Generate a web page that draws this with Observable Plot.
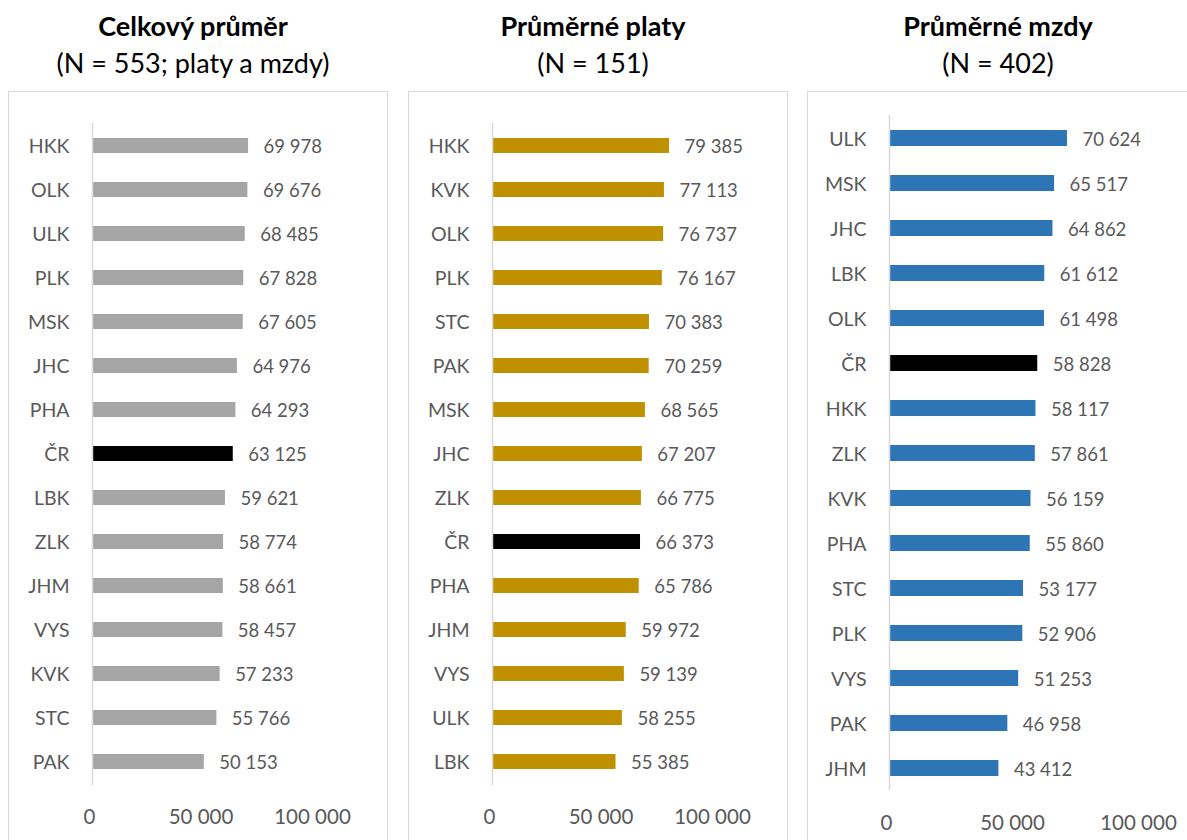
<!DOCTYPE html>
<html>
<head>
<meta charset="utf-8">
<script src="https://cdn.jsdelivr.net/npm/d3@7"></script>
<script src="https://cdn.jsdelivr.net/npm/@observablehq/plot@0.6"></script>
<style>
  html, body { margin: 0; padding: 0; width: 1187px; height: 840px; overflow: hidden; background: #fff; }
  #root { position: relative; width: 1187px; height: 840px; font-family: Lato, "Open Sans", sans-serif; }
  .box { position: absolute; border: 1px solid #d9d9d9; box-sizing: border-box; }
  .ttl { position: absolute; text-align: center; color: #000; font-size: 27px; line-height: 37px; white-space: nowrap; }
  .ttl b { font-weight: 700; }
  .plot { position: absolute; }
</style>
</head>
<body>
<div id="root"></div>
<script>
// ---- data ----
const titles = ["Celkový průměr", "Průměrné platy", "Průměrné mzdy"];
const subtitles = ["(N = 553; platy a mzdy)", "(N = 151)", "(N = 402)"];

const regionsTotal = ["HKK","OLK","ULK","PLK","MSK","JHC","PHA","ČR","LBK","ZLK","JHM","VYS","KVK","STC","PAK"];
const valuesTotal  = [69978,69676,68485,67828,67605,64976,64293,63125,59621,58774,58661,58457,57233,55766,50153];

const regionsPlaty = ["HKK","KVK","OLK","PLK","STC","PAK","MSK","JHC","ZLK","ČR","PHA","JHM","VYS","ULK","LBK"];
const valuesPlaty  = [79385,77113,76737,76167,70383,70259,68565,67207,66775,66373,65786,59972,59139,58255,55385];

const regionsMzdy = ["ULK","MSK","JHC","LBK","OLK","ČR","HKK","ZLK","KVK","PHA","STC","PLK","VYS","PAK","JHM"];
const valuesMzdy  = [70624,65517,64862,61612,61498,58828,58117,57861,56159,55860,53177,52906,51253,46958,43412];

const xTicks = [0, 50000, 100000];
const highlight = "ČR";

// ---- layout / style ----
const fmt = v => d3.format(",")(v).replace(/,/g, "\u00a0");
const panels = [
  {i: 0, cats: regionsTotal, vals: valuesTotal, color: "#a5a5a5", left: 8,   width: 378, zero: 84, full: 307, a: 32, b: 694, tickPad: 24, center: 193},
  {i: 1, cats: regionsPlaty, vals: valuesPlaty, color: "#bf9000", left: 408, width: 378, zero: 84, full: 307, a: 32, b: 694, tickPad: 24, center: 593},
  {i: 2, cats: regionsMzdy,  vals: valuesMzdy,  color: "#2e75b6", left: 807, width: 380, zero: 82, full: 334, a: 24, b: 699, tickPad: 25, center: 998}
];
const boxTop = 91, H = 760;
const root = document.getElementById("root");

for (const p of panels) {
  const t = document.createElement("div");
  t.className = "ttl";
  t.style.left = (p.center - 200) + "px";
  t.style.width = "400px";
  t.style.top = "7px";
  t.innerHTML = `<b>${titles[p.i]}</b><br>${subtitles[p.i]}`;
  root.appendChild(t);

  const box = document.createElement("div");
  box.className = "box";
  box.style.left = p.left + "px";
  box.style.top = boxTop + "px";
  box.style.width = (p.width + 2) + "px";
  box.style.height = "800px";
  root.appendChild(box);

  const data = p.cats.map((c, k) => ({cat: c, value: p.vals[k]}));
  const chart = Plot.plot({
    width: p.width,
    height: H,
    marginLeft: p.zero,
    marginRight: p.width - p.full,
    marginTop: p.a,
    marginBottom: H - p.b,
    style: {fontFamily: "Lato, 'Open Sans', sans-serif", color: "#595959", background: "transparent", overflow: "visible"},
    x: {domain: [0, 100000]},
    y: {domain: p.cats, paddingInner: 0.65, paddingOuter: 0.325},
    color: {type: "identity"},
    marks: [
      Plot.axisX({ticks: xTicks, tickSize: 0, tickPadding: p.tickPad, tickFormat: fmt, fontSize: 20.5, fill: "#595959", dx: -3, label: null}),
      Plot.axisY({tickSize: 0, tickPadding: 23, fontSize: 19.5, fill: "#595959", dy: 1, label: null}),
      Plot.barX(data, {x: "value", y: "cat", fill: d => d.cat === highlight ? "#000000" : p.color}),
      Plot.ruleX([0], {stroke: "#d9d9d9", strokeWidth: 1.5}),
      Plot.text(data, {x: "value", y: "cat", text: d => fmt(d.value), textAnchor: "start", dx: 15, dy: 1.5, fontSize: 18.5, fill: "#595959"})
    ]
  });
  chart.classList.add("plot");
  chart.style.left = p.left + "px";
  chart.style.top = boxTop + "px";
  root.appendChild(chart);
}
</script>
</body>
</html>
